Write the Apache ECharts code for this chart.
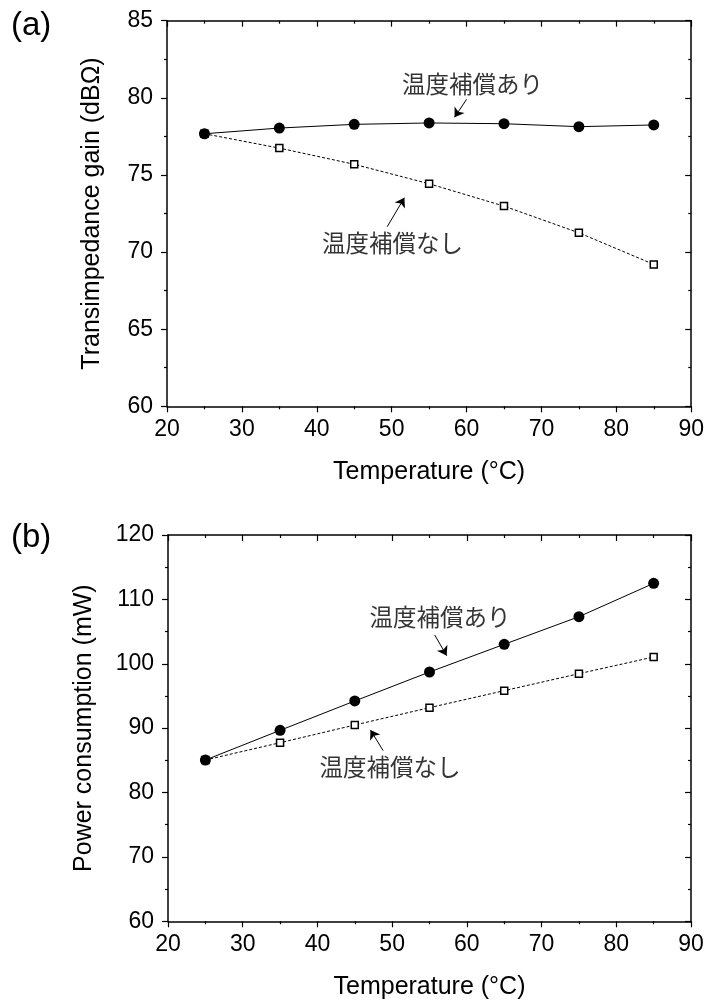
<!DOCTYPE html>
<html>
<head>
<meta charset="utf-8">
<script src="https://cdn.jsdelivr.net/npm/echarts@6/dist/echarts.min.js"></script>
<style>
html,body{margin:0;padding:0;background:#fff;}
#chart{width:707px;height:1003px;}
</style>
</head>
<body>
<div id="chart"></div>
<script>
// ---- data ----
const temperatures = [25, 35, 45, 55, 65, 75, 85];
const gainWithComp = [77.67, 78.04, 78.28, 78.37, 78.32, 78.13, 78.24];
const gainNoComp = [77.67, 76.74, 75.69, 74.43, 72.98, 71.25, 69.2];
const powerWithComp = [85.05, 89.66, 94.22, 98.72, 103.02, 107.31, 112.49];
const powerNoComp = [85.05, 87.74, 90.49, 93.18, 95.82, 98.46, 101.05];
const xTicks = [20, 30, 40, 50, 60, 70, 80, 90];
const gainTicks = [60, 65, 70, 75, 80, 85];
const powerTicks = [60, 70, 80, 90, 100, 110, 120];
const labelWith = '温度補償あり';
const labelWithout = '温度補償なし';
// annotation anchors (data units)
const gainTextWith = [60.8, 80.9];
const gainTextWithout = [50.1, 70.56];
const gainArrowWith = [[60.0, 79.9], [58.4, 78.74]];
const gainArrowWithout = [[49.4, 71.64], [51.7, 73.52]];
const powerTextWith = [56.4, 107.2];
const powerTextWithout = [49.7, 83.9];
const powerArrowWith = [[55.7, 104.47], [57.3, 101.26]];
const powerArrowWithout = [[48.8, 86.5], [47.1, 89.71]];

const FONT = '"Liberation Sans", Arial, "Noto Sans CJK JP", sans-serif';
const pairs = (ys) => temperatures.map((t, i) => [t, ys[i]]);
const TICK = {color: '#000', width: 1.2};

function xAxisPair(grid) {
  const base = {
    type: 'value', gridIndex: grid, min: xTicks[0], max: xTicks[xTicks.length - 1], interval: 10,
    splitLine: {show: false},
    axisLine: {show: true, onZero: false, lineStyle: {color: '#000', width: 1.5}},
    minorTick: {show: true, splitNumber: 2, length: 3, lineStyle: TICK},
  };
  return [
    Object.assign({}, base, {
      position: 'bottom',
      axisTick: {show: true, inside: false, length: 6, lineStyle: TICK},
      axisLabel: {show: true, color: '#000', fontSize: 23, fontFamily: FONT, margin: 12},
      name: 'Temperature (°C)', nameLocation: 'middle', nameGap: 53,
      nameTextStyle: {color: '#000', fontSize: 25, fontFamily: FONT}
    }),
    Object.assign({}, base, {
      position: 'top',
      axisTick: {show: true, inside: true, length: 6, lineStyle: TICK},
      axisLabel: {show: false}
    })
  ];
}
function yAxisPair(grid, ticks, name, gap) {
  const base = {
    type: 'value', gridIndex: grid, min: ticks[0], max: ticks[ticks.length - 1], interval: ticks[1] - ticks[0],
    splitLine: {show: false},
    axisLine: {show: true, onZero: false, lineStyle: {color: '#000', width: 1.5}},
    minorTick: {show: true, splitNumber: 2, length: 3, lineStyle: TICK},
  };
  return [
    Object.assign({}, base, {
      position: 'left',
      axisTick: {show: true, inside: false, length: 6, lineStyle: TICK},
      axisLabel: {show: true, color: '#000', fontSize: 23, fontFamily: FONT, margin: 14},
      name: name, nameLocation: 'middle', nameGap: gap,
      nameTextStyle: {color: '#000', fontSize: 25, fontFamily: FONT}
    }),
    Object.assign({}, base, {
      position: 'right',
      axisTick: {show: true, inside: true, length: 6, lineStyle: TICK},
      axisLabel: {show: false}
    })
  ];
}

function arrowMark(arrow) {
  return {
    silent: true, symbol: ['none', 'arrow'], symbolSize: 9, animation: false,
    lineStyle: {color: '#000', width: 1, type: 'solid'}, label: {show: false},
    itemStyle: {color: '#000'},
    data: [[{coord: arrow[0]}, {coord: arrow[1]}]]
  };
}
function filledSeries(xi, yi, ys, arrow) {
  return {
    type: 'line', xAxisIndex: xi, yAxisIndex: yi, data: pairs(ys),
    symbol: 'circle', symbolSize: 11, z: 5,
    itemStyle: {color: '#000'},
    lineStyle: {color: '#000', width: 1},
    animation: false,
    markLine: arrowMark(arrow)
  };
}
function openSeries(xi, yi, ys, arrow) {
  return {
    type: 'line', xAxisIndex: xi, yAxisIndex: yi, data: pairs(ys),
    symbol: 'rect', symbolSize: 7, z: 4, showAllSymbol: true,
    itemStyle: {color: '#fff', borderColor: '#000', borderWidth: 1.5},
    lineStyle: {color: '#000', width: 1, type: [3, 2]},
    animation: false,
    markLine: arrowMark(arrow)
  };
}
function textSeries(xi, yi, items) {
  return {
    type: 'scatter', xAxisIndex: xi, yAxisIndex: yi, symbolSize: 1, silent: true, animation: false,
    itemStyle: {color: 'rgba(0,0,0,0)'},
    label: {show: true, position: 'inside', formatter: (p) => p.data.name, color: '#000',
      fontSize: 23.5, fontFamily: '"Noto Sans CJK JP", sans-serif'},
    data: items.map(it => ({name: it[0], value: it[1]}))
  };
}

const chart = echarts.init(document.getElementById('chart'), null, {renderer: 'canvas'});
const xa0 = xAxisPair(0), xa1 = xAxisPair(1);
const ya0 = yAxisPair(0, gainTicks, 'Transimpedance gain (dBΩ)', 62);
const ya1 = yAxisPair(1, powerTicks, 'Power consumption (mW)', 71);
chart.setOption({
  backgroundColor: '#fff',
  animation: false,
  grid: [
    {left: 167, right: 15.5, top: 20.7, height: 385.6},
    {left: 168, right: 16, top: 535, height: 386.3}
  ],
  xAxis: [xa0[0], xa0[1], xa1[0], xa1[1]],
  yAxis: [ya0[0], ya0[1], ya1[0], ya1[1]],
  graphic: [
    {type: 'text', left: 11, top: 9, style: {text: '(a)', fontSize: 33, fontFamily: FONT, fill: '#000'}},
    {type: 'text', left: 11, top: 521, style: {text: '(b)', fontSize: 33, fontFamily: FONT, fill: '#000'}}
  ],
  series: [
    openSeries(0, 0, gainNoComp, gainArrowWithout),
    filledSeries(0, 0, gainWithComp, gainArrowWith),
    textSeries(0, 0, [[labelWith, gainTextWith], [labelWithout, gainTextWithout]]),
    openSeries(2, 2, powerNoComp, powerArrowWithout),
    filledSeries(2, 2, powerWithComp, powerArrowWith),
    textSeries(2, 2, [[labelWith, powerTextWith], [labelWithout, powerTextWithout]])
  ]
});
</script>
</body>
</html>
